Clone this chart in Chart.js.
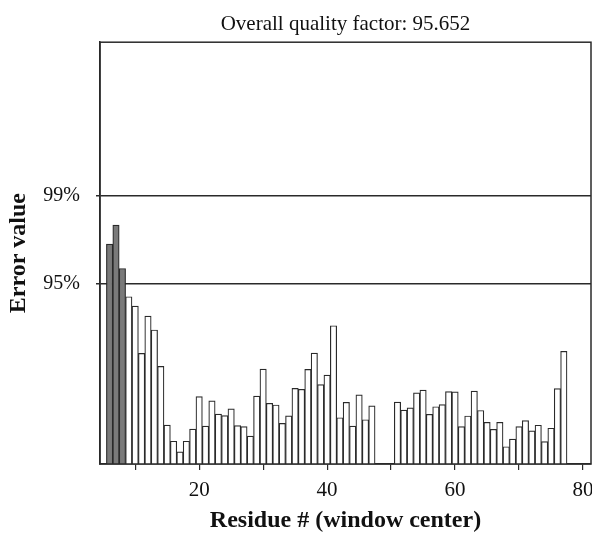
<!DOCTYPE html>
<html lang="en">
<head>
  <meta charset="UTF-8" />
  <title>Overall quality factor</title>
  <script src="https://cdn.jsdelivr.net/npm/chart.js"></script>
  <style>
    html, body { margin: 0; padding: 0; background: #fff; }
    #wrap { width: 592px; height: 535px; }
  </style>
</head>
<body>
  <div id="wrap"><canvas id="errChart" width="592" height="535"></canvas></div>

  <script>
    // residue numbers (window centers) and error values
    const residues = [
      6, 7, 8, 9, 10, 11, 12, 13, 14, 15, 16, 17, 18, 19, 20, 21, 22, 23, 24, 25,
      26, 27, 28, 29, 30, 31, 32, 33, 34, 35, 36, 37, 38, 39, 40, 41, 42, 43, 44, 45,
      46, 47, 48, 49, 50, 51, 52, 53, 54, 55, 56, 57, 58, 59, 60, 61, 62, 63, 64, 65,
      66, 67, 68, 69, 70, 71, 72, 73, 74, 75, 76, 77
    ];
    const errorValues = [
      14.01, 15.22, 12.46, 10.66, 10.06, 7.05, 9.43, 8.54, 6.22, 2.48, 1.45, 0.78, 1.45, 2.22, 4.29, 2.42, 4.03, 3.18, 3.08, 3.52,
      2.45, 2.38, 1.78, 4.33, 6.05, 3.87, 3.76, 2.59, 3.07, 4.82, 4.76, 6.03, 7.07, 5.06, 5.67, 8.81, 2.95, 3.93, 2.42, 4.41,
      2.82, 3.71, null, null, null, 3.95, 3.44, 3.58, 4.54, 4.71, 3.17, 3.65, 3.79, 4.61, 4.60, 2.38, 3.06, 4.65, 3.41, 2.66,
      2.21, 2.66, 1.10, 1.59, 2.38, 2.77, 2.11, 2.47, 1.43, 2.28, 4.80, 7.18
    ];

    // confidence limits drawn as horizontal lines
    const limitValues = [11.46, 17.10];
    const limitLabels = ['95%', '99%'];

    const xTickValues = [10, 20, 30, 40, 50, 60, 70, 80];
    const xTickLabels = ['', '20', '', '40', '', '60', '', '80'];

    const serif = "'Liberation Serif', 'Times New Roman', serif";
    const ink = '#2a2a2a';

    // box around the plotting area
    const frame = {
      id: 'frame',
      afterDraw(chart) {
        const a = chart.chartArea, c = chart.ctx;
        c.save();
        c.strokeStyle = ink;
        c.lineWidth = 1.5;
        c.strokeRect(a.left, a.top, a.right - a.left, a.bottom - a.top);
        c.restore();
      }
    };

    new Chart(document.getElementById('errChart'), {
      type: 'bar',
      data: {
        datasets: [{
          data: residues.map((r, i) => ({ x: r, y: errorValues[i] })),
          backgroundColor: ctx => {
            const v = ctx.raw ? ctx.raw.y : 0;
            if (v > limitValues[1]) return '#111';
            if (v > limitValues[0]) return '#7a7a7a';
            return '#fff';
          },
          borderColor: ink,
          borderWidth: 1.2,
          barPercentage: 1,
          categoryPercentage: 1
        }]
      },
      options: {
        responsive: false,
        animation: false,
        layout: { padding: { right: 1 } },
        plugins: {
          legend: { display: false },
          tooltip: { enabled: false },
          title: {
            display: true,
            text: 'Overall quality factor: 95.652',
            fullSize: false,
            color: '#111',
            font: { family: serif, size: 21, weight: 'normal', lineHeight: 1.2 },
            padding: { top: 11.4, bottom: 5.6 }
          }
        },
        scales: {
          x: {
            type: 'linear',
            offset: false,
            min: 4.5,
            max: 81.25,
            afterBuildTicks: s => { s.ticks = xTickValues.map(v => ({ value: v })); },
            afterFit: s => { s.height = 71; s.paddingLeft = 0; s.paddingRight = 0; },
            ticks: {
              autoSkip: false,
              maxRotation: 0,
              padding: 8,
              color: '#111',
              font: { family: serif, size: 21 },
              callback: v => xTickLabels[xTickValues.indexOf(v)]
            },
            grid: { offset: false, drawOnChartArea: false, tickLength: 6, color: ink, lineWidth: 1.2 },
            border: { color: ink, width: 1.5 },
            title: {
              display: true,
              text: 'Residue # (window center)',
              color: '#111',
              font: { family: serif, size: 24, weight: 'bold', lineHeight: 1.2 },
              padding: 0
            }
          },
          y: {
            min: 0,
            max: 26.88,
            afterBuildTicks: s => { s.ticks = limitValues.map(v => ({ value: v })); },
            afterFit: s => { s.width = 100; s.paddingTop = 0; s.paddingBottom = 0; },
            ticks: {
              padding: 16,
              color: '#111',
              font: { family: serif, size: 20 },
              callback: v => limitLabels[limitValues.indexOf(v)]
            },
            grid: { color: ink, lineWidth: 1.5, tickLength: 4 },
            border: { color: ink, width: 1.5 },
            title: {
              display: true,
              text: 'Error value',
              color: '#111',
              font: { family: serif, size: 24, weight: 'bold', lineHeight: 1.2 },
              padding: { top: 4, bottom: 0 }
            }
          }
        }
      },
      plugins: [frame]
    });
  </script>
</body>
</html>
